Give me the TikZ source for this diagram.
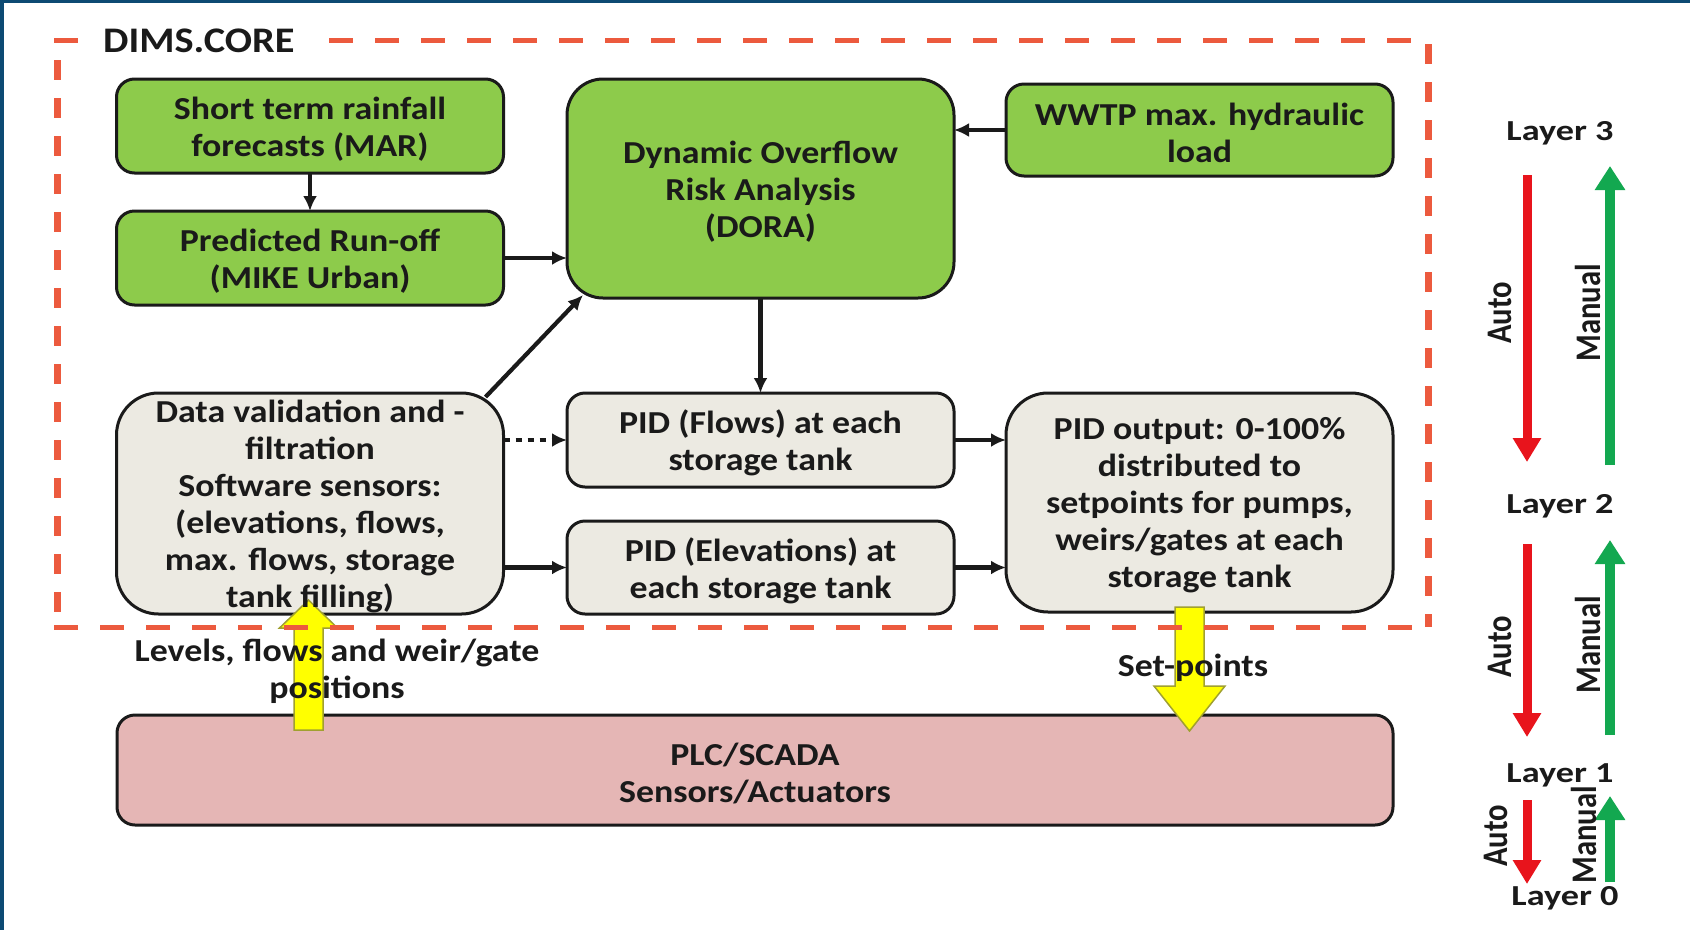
\documentclass[tikz,border=0pt]{standalone}
\usepackage{fontspec}
\setmainfont{Carlito}
\newfontfamily\cf[FakeStretch=1.12]{Carlito}
\newfontfamily\cfn[FakeStretch=0.85]{Carlito}
\newfontfamily\cfw[FakeStretch=1.25]{Carlito}
\usetikzlibrary{arrows.meta}
\pgfdeclarelayer{bg}
\pgfdeclarelayer{mid}
\pgfsetlayers{bg,mid,main}
\definecolor{bandblue}{HTML}{0D4A73}
\definecolor{gfill}{HTML}{8DCB4B}
\definecolor{grayfill}{HTML}{ECEAE2}
\definecolor{pinkfill}{HTML}{E5B6B5}
\definecolor{framered}{HTML}{EC5A3E}
\definecolor{autored}{HTML}{E8141C}
\definecolor{mangreen}{HTML}{13A850}
\definecolor{yarrow}{HTML}{FFFF00}
\definecolor{yedge}{HTML}{A0A030}
\definecolor{ink}{HTML}{1A1A1A}
\begin{document}
\begin{tikzpicture}[x=1pt,y=-1pt,
  box/.style={inner sep=0pt, outer sep=0pt, draw=ink, line width=3pt,
    minimum width=387pt, rounded corners=18pt},
  gbox/.style={box, fill=gfill},
  wbox/.style={box, fill=grayfill},
  txt/.style={inner sep=0pt, align=center, text=ink,
    font=\cf\bfseries\fontsize{32}{37}\selectfont},
  conn/.style={draw=ink, line width=4.2pt, -{Latex[length=15pt,width=14pt]}},
  dotconn/.style={conn, dash pattern=on 6pt off 6pt},
  lay/.style={inner sep=0pt, text=ink, font=\cfw\bfseries\fontsize{29}{30}\selectfont},
  rot/.style={inner sep=0pt, text=ink, rotate=90, font=\cfn\bfseries\fontsize{36}{36}\selectfont},
  redarr/.style={draw=autored, line width=9pt, -{Triangle[length=24pt,width=27pt]}},
  greenarr/.style={draw=mangreen, line width=10pt, -{Triangle[length=24pt,width=29pt]}},
  yarr/.style={fill=yarrow, draw=yedge, line width=1.5pt, line join=miter},
  hdash/.style={draw=framered, line width=5pt, dash pattern=on 24pt off 22pt},
  vdash/.style={draw=framered, line width=7pt, dash pattern=on 20pt off 18pt}
]
\useasboundingbox (0,0) rectangle (1690,930);
\begin{pgfonlayer}{bg}
\fill[white] (0,0) rectangle (1690,930);
\fill[bandblue] (0,0) rectangle (4,930);
\fill[bandblue] (0,0) rectangle (1690,3);
% boxes
\node[gbox, minimum height=94pt] (short) at (310,126) {};
\node[gbox, minimum height=94pt] (pred) at (310,258) {};
\node[gbox, minimum height=219pt, rounded corners=36pt] (dora) at (760.5,188.5) {};
\node[gbox, minimum height=92pt] (wwtp) at (1199.5,130) {};
\node[wbox, minimum height=221pt, rounded corners=42pt] (dv) at (310,503.5) {};
\node[wbox, minimum height=94pt] (pidf) at (760.5,440) {};
\node[wbox, minimum height=93pt] (pide) at (760.5,567.5) {};
\node[wbox, minimum height=219pt, rounded corners=42pt] (pidout) at (1199.5,502.5) {};
\node[box, fill=pinkfill, minimum width=1276pt, minimum height=110pt] (plc) at (755,770) {};
\end{pgfonlayer}

% box texts
\node[txt] (short-t) at ([yshift=-3pt]short.center) {Short term rainfall\\forecasts (MAR)};
\node[txt] (pred-t) at ([yshift=-3pt]pred.center) {Predicted Run-off\\(MIKE Urban)};
\node[txt] (dora-t) at ([yshift=-3pt]dora.center) {Dynamic Overflow\\Risk Analysis\\(DORA)};
\node[txt] (wwtp-t) at ([yshift=-3pt]wwtp.center) {WWTP max. hydraulic\\load};
\node[txt] (dv-t) at ([yshift=-3pt]dv.center) {Data validation and -\\filtration\\Software sensors:\\(elevations, flows,\\max. flows, storage\\tank filling)};
\node[txt] (pidf-t) at ([yshift=-3pt]pidf.center) {PID (Flows) at each\\storage tank};
\node[txt] (pide-t) at ([yshift=-3pt]pide.center) {PID (Elevations) at\\each storage tank};
\node[txt] (pidout-t) at ([yshift=-3pt]pidout.center) {PID output: 0-100\%\\distributed to\\setpoints for pumps,\\weirs/gates at each\\storage tank};
\node[txt] (plc-t) at ([yshift=-3pt]plc.center) {PLC/SCADA\\Sensors/Actuators};

% connectors
\draw[conn] (short.south) -- (pred.north);
\draw[conn] (pred.east) -- (pred.east -| dora.west);
\draw[conn] (wwtp.west) -- (wwtp.west -| dora.east);
\draw[conn] (dora.south) -- (pidf.north);
\draw[conn] ([shift={(-18,4)}]dv.north east) -- ([shift={(16,-3)}]dora.south west);
\draw[dotconn] (pidf.west -| dv.east) -- (pidf.west);
\draw[conn] (pide.west -| dv.east) -- (pide.west);
\draw[conn] (pidf.east) -- (pidf.east -| pidout.west);
\draw[conn] (pide.east) -- (pide.east -| pidout.west);

% yellow block arrows
\begin{pgfonlayer}{mid}
\draw[yarr] (294,730) -- (294,628) -- (279.5,628) -- (308.5,600) -- (337.5,628) -- (323,628) -- (323,730) -- cycle;
\draw[yarr] (1175,607) -- (1175,686) -- (1154,686) -- (1189.5,731) -- (1225,686) -- (1204,686) -- (1204,607) -- cycle;
\end{pgfonlayer}

% DIMS.CORE dashed frame
\draw[framered, line width=5pt] (54,40) -- (78,40);
\draw[hdash] (329,40) -- (1432,40);
\draw[vdash] (57,60) -- (57,627);
\draw[vdash] (1428,44) -- (1428,627);
\draw[hdash] (54,627) -- (1432,627);
\node[anchor=west, inner sep=0pt, text=ink, font=\cf\bfseries\fontsize{36}{40}\selectfont] (dims) at (103,41) {DIMS.CORE};

% flow labels
\node[txt] (levels) at (337,671) {Levels, flows and weir/gate\\positions};
\node[txt] (setp) at (1193,668) {Set-points};

% layer column
\node[lay] (l3) at (1560,133) {Layer 3};
\node[lay] (l2) at (1560,506) {Layer 2};
\node[lay] (l1) at (1560,775) {Layer 1};
\node[lay] (l0) at (1565,898) {Layer 0};

\coordinate (r1s) at (1527,175); \coordinate (r1e) at (1527,462);
\coordinate (g1s) at (1610,465); \coordinate (g1e) at (1610,166);
\coordinate (r2s) at (1527,544); \coordinate (r2e) at (1527,737);
\coordinate (g2s) at (1610,735); \coordinate (g2e) at (1610,540);
\coordinate (r3s) at (1527,800); \coordinate (r3e) at (1527,884);
\coordinate (g3s) at (1610,882); \coordinate (g3e) at (1610,796);
\draw[redarr] (r1s) -- (r1e);
\draw[greenarr] (g1s) -- (g1e);
\draw[redarr] (r2s) -- (r2e);
\draw[greenarr] (g2s) -- (g2e);
\draw[redarr] (r3s) -- (r3e);
\draw[greenarr] (g3s) -- (g3e);

\node[rot] (a1) at (1500,313) {Auto};
\node[rot] (m1) at (1588,313) {Manual};
\node[rot] (a2) at (1500,647) {Auto};
\node[rot] (m2) at (1588,645) {Manual};
\node[rot] (a3) at (1496,836) {Auto};
\node[rot] (m3) at (1584,835) {Manual};
\end{tikzpicture}
\end{document}
